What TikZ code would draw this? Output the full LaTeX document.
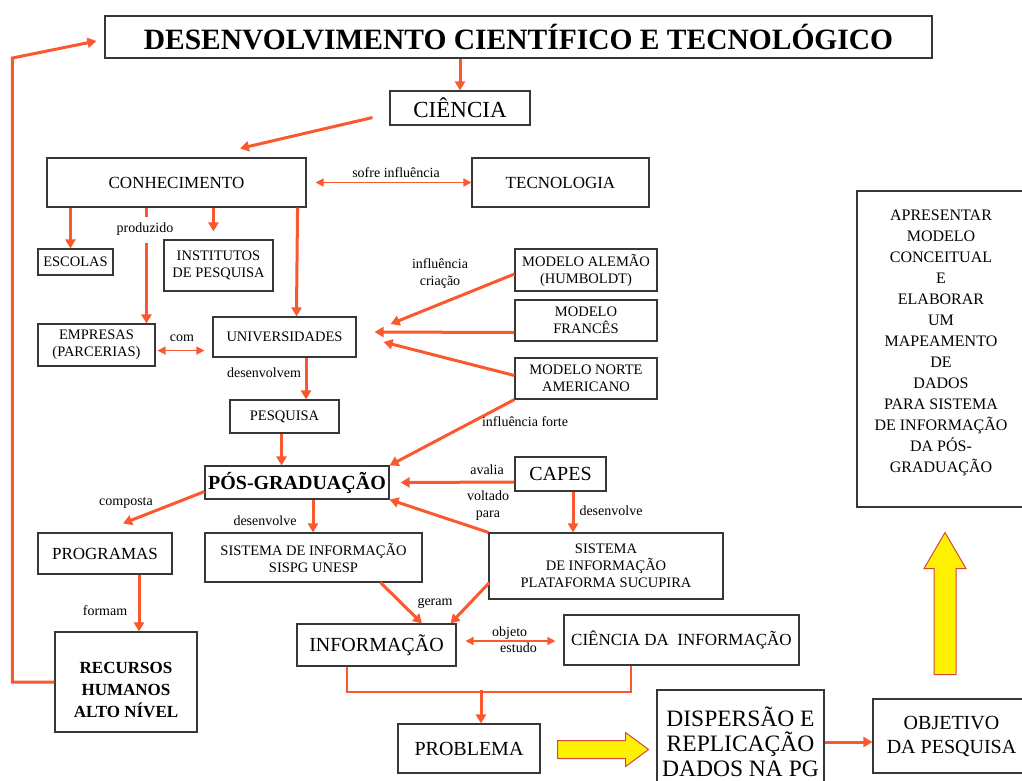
\documentclass[tikz,border=0pt]{standalone}
\usepackage{fontspec}
\setmainfont{Liberation Serif}
\usetikzlibrary{arrows.meta,calc}
\definecolor{arrc}{RGB}{250,88,46}
\definecolor{boxc}{RGB}{55,55,55}
\definecolor{yedge}{RGB}{210,70,60}
\newcommand{\myfs}[2]{\fontsize{#1}{#2}\selectfont}
\begin{document}
\begin{tikzpicture}[x=1pt,y=-1pt,
 box/.style={draw=boxc,line width=1.1pt,rectangle,inner sep=0pt,align=center,font=\myfs{14.5}{17}},
 lbl/.style={inner sep=0pt,align=center,font=\myfs{14}{17}},
 arr/.style={draw=arrc,line width=3pt,-{Triangle[length=9pt,width=10pt]}},
 thinarr/.style={draw=arrc,line width=1.5pt,{Triangle[length=8pt,width=8pt]}-{Triangle[length=8pt,width=8pt]}},
 bracketline/.style={draw=arrc,line width=2pt},
 yarrow/.style={fill=yellow,draw=yedge,line width=1pt},
]
\useasboundingbox (0,0) rectangle (1022,780);

% nodes
\node[box,minimum width=827,minimum height=42,font=\myfs{29.5}{32}\bfseries] (title) at (518.5,37) {DESENVOLVIMENTO CIENTÍFICO E TECNOLÓGICO};
\node[box,minimum width=140,minimum height=34,font=\myfs{23}{26}] (ciencia) at (460,108) {CIÊNCIA};
\node[box,minimum width=259,minimum height=49,font=\myfs{17}{20}] (conh) at (176.5,182.5) {CONHECIMENTO};
\node[box,minimum width=177,minimum height=49,font=\myfs{17}{20}] (tec) at (560.5,182.5) {TECNOLOGIA};
\node[box,minimum width=75,minimum height=26] (escolas) at (75.5,262) {ESCOLAS};
\node[box,minimum width=109,minimum height=51] (inst) at (218.5,265.5) {INSTITUTOS\\DE PESQUISA};
\node[box,minimum width=117,minimum height=42] (emp) at (96.5,345) {EMPRESAS\\(PARCERIAS)};
\node[box,minimum width=143,minimum height=40] (univ) at (284.5,337) {UNIVERSIDADES};
\node[box,minimum width=142,minimum height=42] (alem) at (586,270) {MODELO ALEMÃO\\(HUMBOLDT)};
\node[box,minimum width=142,minimum height=41] (fran) at (586,320.5) {MODELO\\FRANCÊS};
\node[box,minimum width=142,minimum height=41] (norte) at (586,378.5) {MODELO NORTE\\AMERICANO};
\node[box,minimum width=109,minimum height=33] (pesq) at (284.5,416.5) {PESQUISA};
\node[box,minimum width=184,minimum height=33,font=\myfs{20}{23}\bfseries] (pos) at (297,482.5) {PÓS-GRADUAÇÃO};
\node[box,minimum width=91,minimum height=34,font=\myfs{20}{23}] (capes) at (560.5,474) {CAPES};
\node[box,minimum width=134,minimum height=41,font=\myfs{17}{20}] (prog) at (105,553.5) {PROGRAMAS};
\node[box,minimum width=217,minimum height=49] (sispg) at (313.5,557.5) {SISTEMA DE INFORMAÇÃO\\SISPG UNESP};
\node[box,minimum width=234,minimum height=66] (sucu) at (606,566) {SISTEMA\\DE INFORMAÇÃO\\PLATAFORMA SUCUPIRA};
\node[box,minimum width=142,minimum height=100,font=\myfs{17}{22}\bfseries] (rec) at (126,682) {\rule{0pt}{27pt}RECURSOS\\HUMANOS\\ALTO NÍVEL};
\node[box,minimum width=159,minimum height=42,font=\myfs{20}{23}] (info) at (376.5,645) {INFORMAÇÃO};
\node[box,minimum width=235,minimum height=50,font=\myfs{17}{20}] (cdi) at (681.5,640) {CIÊNCIA DA\ \ INFORMAÇÃO};
\node[box,minimum width=142,minimum height=49,font=\myfs{20}{23}] (prob) at (469,748.5) {PROBLEMA};
\node[box,minimum width=167,minimum height=104,font=\myfs{23.5}{25}] (dis) at (740.5,742) {DISPERSÃO E\\REPLICAÇÃO\\DADOS NA PG};
\node[box,minimum width=157,minimum height=74,font=\myfs{20}{24}] (obj) at (951.5,736) {OBJETIVO\\DA PESQUISA};
\node[box,minimum width=168,minimum height=316] (apr) at (941,349) {};
\node[inner sep=0pt,align=center,font=\myfs{16}{21}] (aprt) at (941,343) {APRESENTAR\\MODELO\\CONCEITUAL\\E\\ELABORAR\\UM\\MAPEAMENTO\\DE\\DADOS\\PARA SISTEMA\\DE INFORMAÇÃO\\DA PÓS-\\GRADUAÇÃO};

% connectors
\draw[arr] (title.south -| ciencia.north) -- (ciencia.north);
\draw[arr] ($(ciencia.south west)+(-17,-8)$) -- ($(conh.north)+(63.5,-9)$);
\draw[thinarr] ($(conh.east)+(9,0)$) -- (tec.west);
\node[lbl] (l1) at (396,173) {sofre influência};

\draw[arr] ($(conh.south west)+(24,0)$) -- ($(escolas.north west)+(33,0)$);
\draw[arr] ($(conh.south west)+(167,0)$) -- ($(inst.north west)+(50,-8)$);
\draw[draw=arrc,line width=2.5pt] ($(conh.south west)+(100,0)$) -- ++(0,9);
\draw[arr] ($(conh.south west)+(100,35)$) -- ($(emp.north west)+(109,0)$);
\node[lbl] (l2) at (145,229) {produzido};
\draw[arr] ($(conh.south east)+(-9,0)$) -- ($(univ.north west)+(84,0)$);

\draw[thinarr] ($(emp.south east)+(2,-16)$) -- ($(univ.south west)+(-8,-7)$);
\node[lbl] (l3) at (182,338) {com};

\draw[arr] ($(alem.west)+(0,4)$) -- ($(univ.east)+(34,-13)$);
\draw[arr] ($(fran.west)+(0,12)$) -- ($(univ.east)+(18,-5)$);
\draw[arr] ($(norte.west)+(0,-3)$) -- ($(univ.east)+(27,5)$);
\draw[arr] (norte.south west) -- (pos.north east);
\node[lbl] (l4) at (440,273.5) {influência\\criação};
\node[lbl] (l5) at (525,422) {influência forte};

\draw[arr] ($(univ.south)+(21.5,0)$) -- ($(pesq.north)+(21.5,0)$);
\node[lbl] (l6) at (264,373) {desenvolvem};
\draw[arr] ($(pesq.south)+(-3,0)$) -- ($(pos.north)+(-15.5,0)$);

\draw[arr] ($(capes.west)+(0,8)$) -- ($(pos.east)+(11,0)$);
\node[lbl] (l7) at (487,470) {avalia};
\draw[arr] (sucu.north west) -- (pos.south east);
\node[lbl] (l8) at (488,506) {voltado\\para};
\draw[arr] ($(capes.south)+(12.5,0)$) -- ($(sucu.north)+(-33,0)$);
\node[lbl] (l9) at (611,511) {desenvolve};

\draw[arr] ($(pos.south west)+(0,-8)$) -- ($(prog.north)+(18,-9)$);
\node[lbl] (l10) at (126,503) {composta};
\draw[arr] ($(pos.south)+(16,0)$) -- ($(sispg.north)+(-0.5,0)$);
\node[lbl] (l11) at (265,521) {desenvolve};

\draw[arr] ($(prog.south)+(34,0)$) -- ($(rec.north)+(13,0)$);
\node[lbl] (l12) at (105,611) {formam};
\draw[arr] (rec.west) -| ($(title.west)+(-92,21)$) -- ($(title.west)+(-8,4)$);

\draw[arr] ($(sispg.south east)+(-42,0)$) -- ($(info.north)+(45.5,0)$);
\draw[arr] ($(sucu.south west)+(1,-17)$) -- ($(info.north east)+(-6,0)$);
\node[lbl] (l13) at (435,603) {geram};

\draw[thinarr] ($(info.east)+(9,-4)$) -- ($(cdi.west)+(-8,1)$);
\node[lbl,align=left,anchor=west,font=\myfs{14}{16}] (l14) at (492,640) {objeto\\\hspace*{8pt}estudo};

\coordinate (b1) at ($(info.south west)+(51,0)$);
\coordinate (b2) at ($(info.south west)+(51,25)$);
\coordinate (b3) at ($(cdi.south west)+(68,26)$);
\coordinate (b4) at ($(cdi.south west)+(68,0)$);
\draw[bracketline] (b1) -- (b2) -- (b3) -- (b4);
\fill[arrc] ($(b2)+(-1,-1)$) rectangle ($(b3)+(1,1)$);
\fill[arrc] ($(b1)+(-1,0)$) rectangle ($(b2)+(1,0)$);
\fill[arrc] ($(b4)+(-1,0)$) rectangle ($(b3)+(1,0)$);
\coordinate (jn) at ($(prob.north)+(12,-33)$);
\draw[arr] (jn) -- ($(prob.north)+(12,0)$);

\draw[yarrow] ($(prob.east)+(17,-8)$) -- ++(68,0) -- ++(0,-8) -- ++(23,17) -- ++(-23,17) -- ++(0,-8) -- ++(-68,0) -- cycle;
\draw[arr] (dis.east) -- (obj.west |- dis.east);
\draw[yarrow] ($(apr.south)+(-7,167)$) -- ++(0,-106) -- ++(-10,0) -- ++(21,-36) -- ++(21,36) -- ++(-10,0) -- ++(0,106) -- cycle;
\end{tikzpicture}
\end{document}
